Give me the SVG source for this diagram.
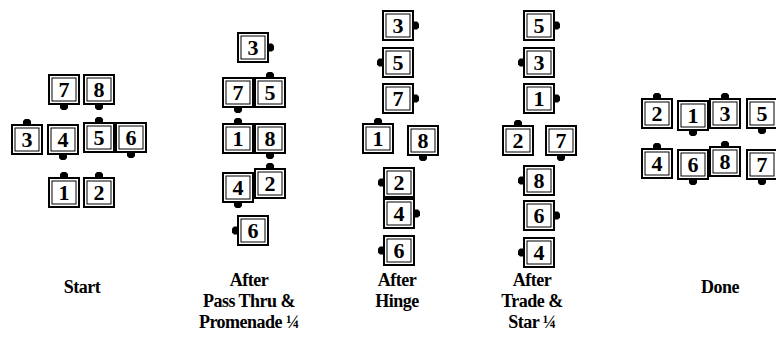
<svg xmlns="http://www.w3.org/2000/svg" xmlns:xlink="http://www.w3.org/1999/xlink" width="776" height="352" viewBox="0 0 776 352">
<style>
.o{fill:#fff;stroke:#000;stroke-width:2}
.i{fill:none;stroke:#000;stroke-width:1}
.n{fill:#000}
.d{font-family:"Liberation Serif",serif;font-weight:bold;font-size:22px;text-anchor:middle;fill:#000}
.l{font-family:"Liberation Serif",serif;font-weight:bold;font-size:18px;text-anchor:middle;fill:#000;letter-spacing:-0.5px}
</style>
<defs>
<g id="box"><rect class="o" x="1" y="1" width="30" height="29"/><rect class="i" x="4" y="4" width="24" height="23"/></g>
<path id="nT" class="n" d="M12,1 V-3 L14,-5 H18 L20,-3 V1 Z"/>
<path id="nB" class="n" d="M12,30 V34 L14,36 H18 L20,34 V30 Z"/>
<path id="nL" class="n" d="M1,11.5 H-3 L-5,13.5 V17.5 L-3,19.5 H1 Z"/>
<path id="nR" class="n" d="M31,11.5 H35 L37,13.5 V17.5 L35,19.5 H31 Z"/>
</defs>
<g id="connectors"/>
<!-- Start -->
<g id="s7" transform="translate(48,74)"><use xlink:href="#box"/><use xlink:href="#nB"/><text class="d" x="16" y="23">7</text></g>
<g id="s8" transform="translate(83,74)"><use xlink:href="#box"/><use xlink:href="#nB"/><text class="d" x="16" y="23">8</text></g>
<g id="s3" transform="translate(11,124)"><use xlink:href="#box"/><use xlink:href="#nT"/><text class="d" x="16" y="23">3</text></g>
<g id="s4" transform="translate(47,124)"><use xlink:href="#box"/><use xlink:href="#nB"/><text class="d" x="16" y="23">4</text></g>
<g id="s5" transform="translate(83,122)"><use xlink:href="#box"/><use xlink:href="#nT"/><text class="d" x="16" y="23">5</text></g>
<g id="s6" transform="translate(115,122)"><use xlink:href="#box"/><use xlink:href="#nB"/><text class="d" x="16" y="23">6</text></g>
<g id="s1" transform="translate(48,177)"><use xlink:href="#box"/><use xlink:href="#nT"/><text class="d" x="16" y="23">1</text></g>
<g id="s2" transform="translate(83,177)"><use xlink:href="#box"/><use xlink:href="#nT"/><text class="d" x="16" y="23">2</text></g>
<!-- After Pass Thru -->
<g id="p3" transform="translate(237,32)"><use xlink:href="#box"/><use xlink:href="#nR"/><text class="d" x="16" y="23">3</text></g>
<g id="p7" transform="translate(222,77)"><use xlink:href="#box"/><use xlink:href="#nB"/><text class="d" x="16" y="23">7</text></g>
<g id="p5" transform="translate(254,77)"><use xlink:href="#box"/><use xlink:href="#nT"/><text class="d" x="16" y="23">5</text></g>
<g id="p1" transform="translate(222,123)"><use xlink:href="#box"/><use xlink:href="#nT"/><text class="d" x="16" y="23">1</text></g>
<g id="p8" transform="translate(254,123)"><use xlink:href="#box"/><use xlink:href="#nB"/><text class="d" x="16" y="23">8</text></g>
<g id="p4" transform="translate(222,172)"><use xlink:href="#box"/><use xlink:href="#nB"/><text class="d" x="16" y="23">4</text></g>
<g id="p2" transform="translate(254,168)"><use xlink:href="#box"/><use xlink:href="#nT"/><text class="d" x="16" y="23">2</text></g>
<g id="p6" transform="translate(237,215)"><use xlink:href="#box"/><use xlink:href="#nL"/><text class="d" x="16" y="23">6</text></g>
<!-- After Hinge -->
<g id="h3" transform="translate(382,10)"><use xlink:href="#box"/><use xlink:href="#nR"/><text class="d" x="16" y="23">3</text></g>
<g id="h5" transform="translate(382,47)"><use xlink:href="#box"/><use xlink:href="#nL"/><text class="d" x="16" y="23">5</text></g>
<g id="h7" transform="translate(382,83)"><use xlink:href="#box"/><use xlink:href="#nR"/><text class="d" x="16" y="23">7</text></g>
<g id="h1" transform="translate(362,123)"><use xlink:href="#box"/><use xlink:href="#nT"/><text class="d" x="16" y="23">1</text></g>
<g id="h8" transform="translate(407,125)"><use xlink:href="#box"/><use xlink:href="#nB"/><text class="d" x="16" y="23">8</text></g>
<g id="h2" transform="translate(383,167)"><use xlink:href="#box"/><use xlink:href="#nL"/><text class="d" x="16" y="23">2</text></g>
<g id="h4" transform="translate(383,198)"><use xlink:href="#box"/><use xlink:href="#nR"/><text class="d" x="16" y="23">4</text></g>
<g id="h6" transform="translate(383,235)"><use xlink:href="#box"/><use xlink:href="#nL"/><text class="d" x="16" y="23">6</text></g>
<!-- After Trade & Star -->
<g id="t5" transform="translate(523,10)"><use xlink:href="#box"/><use xlink:href="#nR"/><text class="d" x="16" y="23">5</text></g>
<g id="t3" transform="translate(523,47)"><use xlink:href="#box"/><use xlink:href="#nL"/><text class="d" x="16" y="23">3</text></g>
<g id="t1" transform="translate(523,83)"><use xlink:href="#box"/><use xlink:href="#nR"/><text class="d" x="16" y="23">1</text></g>
<g id="t2" transform="translate(502,125)"><use xlink:href="#box"/><use xlink:href="#nT"/><text class="d" x="16" y="23">2</text></g>
<g id="t7" transform="translate(545,125)"><use xlink:href="#box"/><use xlink:href="#nB"/><text class="d" x="16" y="23">7</text></g>
<g id="t8" transform="translate(523,165)"><use xlink:href="#box"/><use xlink:href="#nL"/><text class="d" x="16" y="23">8</text></g>
<g id="t6" transform="translate(523,200)"><use xlink:href="#box"/><use xlink:href="#nR"/><text class="d" x="16" y="23">6</text></g>
<g id="t4" transform="translate(523,237)"><use xlink:href="#box"/><use xlink:href="#nL"/><text class="d" x="16" y="23">4</text></g>
<!-- Done -->
<g id="d2" transform="translate(641,98)"><use xlink:href="#box"/><use xlink:href="#nT"/><text class="d" x="16" y="23">2</text></g>
<g id="d1" transform="translate(677,100)"><use xlink:href="#box"/><use xlink:href="#nB"/><text class="d" x="16" y="23">1</text></g>
<g id="d3" transform="translate(709,98)"><use xlink:href="#box"/><use xlink:href="#nT"/><text class="d" x="16" y="23">3</text></g>
<g id="d5" transform="translate(746,98)"><use xlink:href="#box"/><use xlink:href="#nB"/><text class="d" x="16" y="23">5</text></g>
<g id="d4" transform="translate(641,148)"><use xlink:href="#box"/><use xlink:href="#nT"/><text class="d" x="16" y="23">4</text></g>
<g id="d6" transform="translate(677,149)"><use xlink:href="#box"/><use xlink:href="#nB"/><text class="d" x="16" y="23">6</text></g>
<g id="d8" transform="translate(709,146)"><use xlink:href="#box"/><use xlink:href="#nT"/><text class="d" x="16" y="23">8</text></g>
<g id="d7" transform="translate(746,149)"><use xlink:href="#box"/><use xlink:href="#nB"/><text class="d" x="16" y="23">7</text></g>
<!-- Labels -->
<g id="labels">
<text class="l" x="82" y="293">Start</text>
<text class="l" x="249" y="286">After</text>
<text class="l" x="249" y="307">Pass Thru &amp;</text>
<text class="l" x="249" y="328">Promenade ¼</text>
<text class="l" x="397" y="286">After</text>
<text class="l" x="397" y="307">Hinge</text>
<text class="l" x="532" y="286">After</text>
<text class="l" x="532" y="307">Trade &amp;</text>
<text class="l" x="532" y="328">Star ¼</text>
<text class="l" x="720" y="293">Done</text>
</g>
</svg>
